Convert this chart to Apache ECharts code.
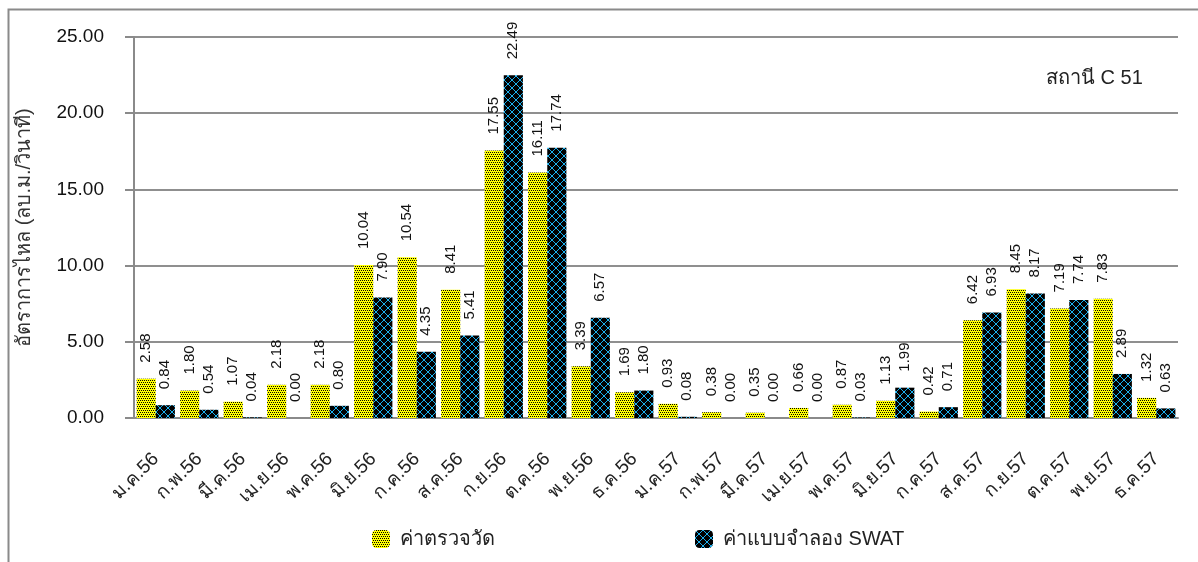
<!DOCTYPE html>
<html>
<head>
<meta charset="utf-8">
<script src="https://cdn.jsdelivr.net/npm/echarts@6/dist/echarts.min.js"></script>
<style>
  html, body { margin: 0; padding: 0; background: #fff; }
  #box { width: 1198px; height: 562px; }
</style>
</head>
<body>
<div id="box"></div>
<script>
// ข้อมูล
var months = ['ม.ค.56', 'ก.พ.56', 'มี.ค.56', 'เม.ย.56', 'พ.ค.56', 'มิ.ย.56', 'ก.ค.56', 'ส.ค.56', 'ก.ย.56', 'ต.ค.56', 'พ.ย.56', 'ธ.ค.56',
    'ม.ค.57', 'ก.พ.57', 'มี.ค.57', 'เม.ย.57', 'พ.ค.57', 'มิ.ย.57', 'ก.ค.57', 'ส.ค.57', 'ก.ย.57', 'ต.ค.57', 'พ.ย.57', 'ธ.ค.57'];
var observed = [2.58, 1.80, 1.07, 2.18, 2.18, 10.04, 10.54, 8.41, 17.55, 16.11, 3.39, 1.69,
    0.93, 0.38, 0.35, 0.66, 0.87, 1.13, 0.42, 6.42, 8.45, 7.19, 7.83, 1.32];
var swat = [0.84, 0.54, 0.04, 0.00, 0.80, 7.90, 4.35, 5.41, 22.49, 17.74, 6.57, 1.80,
    0.08, 0.00, 0.00, 0.00, 0.03, 1.99, 0.71, 6.93, 8.17, 7.74, 2.89, 0.63];
var seriesNames = ['ค่าตรวจวัด', 'ค่าแบบจำลอง SWAT'];

// ลายของแท่ง
function yellowPattern() {
    var c = document.createElement('canvas');
    c.width = 4; c.height = 4;
    var ctx = c.getContext('2d');
    ctx.fillStyle = 'rgb(255,255,0)';
    ctx.fillRect(0, 0, 4, 4);
    ctx.fillStyle = 'rgb(0,0,0)';
    [[0, 0], [2, 0], [1, 2], [3, 2]].forEach(function (p) {
        ctx.fillRect(p[0], p[1], 1, 1);
    });
    return c;
}
function swatPattern() {
    var c = document.createElement('canvas');
    c.width = 8; c.height = 8;
    var ctx = c.getContext('2d');
    ctx.fillStyle = '#000000';
    ctx.fillRect(0, 0, 8, 8);
    ctx.fillStyle = '#1cb0ee';
    for (var i = 0; i < 8; i++) {
        ctx.fillRect(i, i, 1, 1);
        ctx.fillRect(7 - i, i, 1, 1);
    }
    return c;
}
var pat1 = { image: yellowPattern(), repeat: 'repeat' };
var pat2 = { image: swatPattern(), repeat: 'repeat' };

var labelOpt = {
    show: true,
    position: 'top',
    rotate: 90,
    align: 'left',
    verticalAlign: 'middle',
    distance: 16,
    fontSize: 15,
    color: '#111',
    formatter: function (p) { return p.value.toFixed(2); }
};

var myChart = echarts.init(document.getElementById('box'));
var option = {
    animation: false,
    textStyle: { fontFamily: 'Arial, "Liberation Sans", sans-serif' },
    graphic: [
        {
            type: 'rect',
            left: 6, top: 7,
            shape: { width: 1300, height: 700 },
            style: { fill: 'none', stroke: '#8a8a8a', lineWidth: 2 }
        },
        {
            type: 'text',
            left: 1046, top: 68,
            style: { text: 'สถานี C 51', fill: '#222', font: '20px Arial, "Liberation Sans", sans-serif' }
        }
    ],
    legend: {
        bottom: 8,
        left: 367,
        itemGap: 200,
        itemWidth: 18,
        itemHeight: 18,
        textStyle: { fontSize: 20, color: '#222', padding: [0, 0, 0, 5] },
        data: [
            { name: seriesNames[0], itemStyle: { color: pat1 } },
            { name: seriesNames[1], itemStyle: { color: pat2 } }
        ]
    },
    grid: { left: 134, right: 20, top: 37, bottom: 144 },
    xAxis: {
        type: 'category',
        data: months,
        axisLine: { lineStyle: { color: '#8a8a8a', width: 2 } },
        axisTick: { show: false },
        axisLabel: {
            rotate: 45,
            interval: 0,
            fontSize: 19,
            color: '#222',
            margin: 38
        }
    },
    yAxis: {
        type: 'value',
        min: 0,
        max: 25,
        interval: 5,
        name: 'อัตราการไหล (ลบ.ม./วินาที)',
        nameLocation: 'middle',
        nameGap: 100,
        nameTextStyle: { fontSize: 20, color: '#333' },
        axisLine: { show: true, lineStyle: { color: '#8a8a8a', width: 2 } },
        axisTick: { show: true, length: 9, lineStyle: { color: '#8a8a8a', width: 2 } },
        splitLine: { lineStyle: { color: '#8f8f8f', width: 2 } },
        axisLabel: {
            fontSize: 19,
            color: '#111',
            margin: 30,
            formatter: function (v) { return v.toFixed(2); }
        }
    },
    series: [
        {
            name: seriesNames[0],
            type: 'bar',
            data: observed,
            barGap: '0%',
            barCategoryGap: '12%',
            itemStyle: { color: pat1 },
            label: labelOpt
        },
        {
            name: seriesNames[1],
            type: 'bar',
            data: swat,
            itemStyle: { color: pat2 },
            label: labelOpt
        }
    ]
};
option && myChart.setOption(option);
</script>
</body>
</html>
